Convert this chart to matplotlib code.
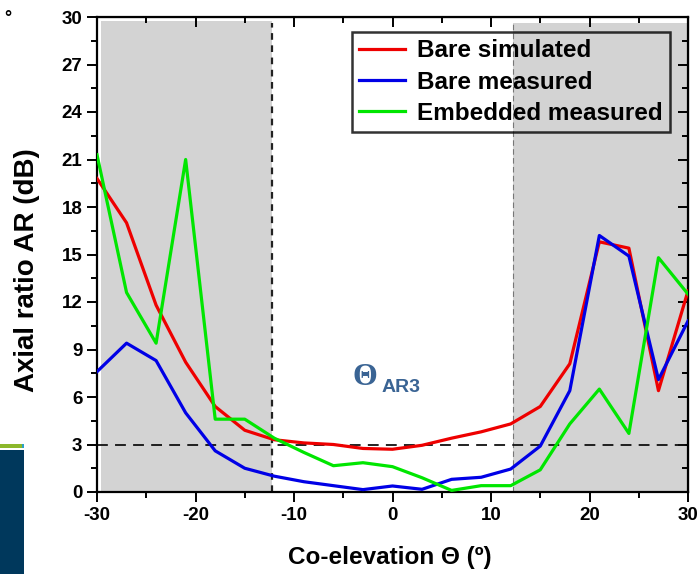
"""Axial ratio vs co-elevation."""

import matplotlib.pyplot as plt
from matplotlib.patches import Rectangle
from matplotlib.ticker import MultipleLocator

plt.rcParams["font.family"] = ["Liberation Sans", "DejaVu Sans"]
plt.rcParams["font.weight"] = "bold"
plt.rcParams["axes.unicode_minus"] = False

theta = [-30, -27, -24, -21, -18, -15, -12, -9, -6, -3, 0,
         3, 6, 9, 12, 15, 18, 21, 24, 27, 30]
bare_sim = [19.8, 17.0, 11.8, 8.2, 5.4, 3.9, 3.3, 3.1, 3.0, 2.75, 2.7,
            2.95, 3.4, 3.8, 4.3, 5.4, 8.1, 15.8, 15.4, 6.4, 12.7]
bare_meas = [7.6, 9.4, 8.3, 5.0, 2.6, 1.5, 1.0, 0.65, 0.4, 0.15, 0.38,
             0.17, 0.8, 0.93, 1.45, 2.9, 6.4, 16.2, 14.9, 7.1, 10.8]
emb_meas = [21.3, 12.6, 9.4, 21.0, 4.6, 4.6, 3.4, 2.5, 1.66, 1.85, 1.6,
            0.9, 0.1, 0.4, 0.4, 1.4, 4.3, 6.5, 3.7, 14.8, 12.5]

fig = plt.figure(figsize=(6.98, 5.74), dpi=100)
ax = fig.add_axes([97 / 698, 82 / 574, 591 / 698, 475 / 574])

# shaded regions outside the 3 dB beamwidth
ax.add_patch(Rectangle((-29.6, 0.05), 17.4, 29.7, facecolor="#d3d3d3",
                       edgecolor="none", zorder=0))
ax.add_patch(Rectangle((12.2, 0.05), 17.8, 29.6, facecolor="#d3d3d3",
                       edgecolor="none", zorder=0))
ax.plot([-12.2, -12.2], [0, 29.6], color="#222222", ls=(0, (3, 2.5)), lw=1.6, zorder=1)
ax.plot([12.2, 12.2], [0, 29.6], color="#777777", ls=(0, (5, 3)), lw=0.8, zorder=1)
ax.axhline(3, color="#111111", ls=(0, (6, 4)), lw=1.3, zorder=1)

ax.plot(theta, bare_sim, color="#ee0000", lw=2.3, label="Bare simulated", zorder=3)
ax.plot(theta, bare_meas, color="#0000e6", lw=2.3, label="Bare measured", zorder=3)
ax.plot(theta, emb_meas, color="#00e600", lw=2.3, label="Embedded measured", zorder=3)

ax.text(-4.1, 7.25, "\u0398", color="#3a6494", fontsize=23, fontweight="bold",
        family="Liberation Serif", ha="left", va="center")
ax.text(-1.1, 6.62, "AR3", color="#3a6494", fontsize=14, fontweight="bold",
        ha="left", va="center")

ax.set_xlim(-30, 30)
ax.set_ylim(0, 30)
ax.xaxis.set_major_locator(MultipleLocator(10))
ax.xaxis.set_minor_locator(MultipleLocator(5))
ax.yaxis.set_major_locator(MultipleLocator(3))
ax.yaxis.set_minor_locator(MultipleLocator(1.5))
ax.tick_params(which="both", labelsize=13.5, width=1.4)
ax.tick_params(which="major", length=7)
ax.tick_params(which="minor", length=4)
for spine in ax.spines.values():
    spine.set_linewidth(1.6)

# inward ticks on top and right, outward on bottom and left
ax2 = ax.secondary_xaxis("top")
ax2.tick_params(which="both", direction="in", labeltop=False, width=1.4)
ax2.tick_params(which="major", length=7)
ax2.tick_params(which="minor", length=4)
ax2.xaxis.set_minor_locator(MultipleLocator(5))
ax2.xaxis.set_major_locator(MultipleLocator(10))
ax3 = ax.secondary_yaxis("right")
ax3.tick_params(which="both", direction="in", labelright=False, width=1.4)
ax3.tick_params(which="major", length=7)
ax3.tick_params(which="minor", length=4)
ax3.yaxis.set_major_locator(MultipleLocator(3))
ax3.yaxis.set_minor_locator(MultipleLocator(1.5))

ax.set_xlabel("Co-elevation \u0398 (\u00ba)", fontsize=17.5, fontweight="bold")
ax.set_ylabel("Axial ratio AR (dB)", fontsize=20, fontweight="bold")
ax.xaxis.set_label_coords(0.496, -0.114)
ax.yaxis.set_label_coords(-0.097, 0.467)

leg = ax.legend(loc="upper left", bbox_to_anchor=(0.431, 0.968),
                frameon=True, fancybox=False, facecolor="none", edgecolor="black",
                handlelength=1.9, handletextpad=0.5, borderpad=0.3,
                labelspacing=0.33, borderaxespad=0,
                prop={"weight": "bold", "size": 17.5})
leg.get_frame().set_linewidth(1.8)

# slide fragments visible at the left border of the picture
fig.text(8 / 698, 1 - 18 / 574, "\u00b0", fontsize=13, fontweight="bold",
         ha="center", va="center")
fig.add_artist(Rectangle((0, 0), 24 / 698, 124 / 574, transform=fig.transFigure,
                         facecolor="#00385c", edgecolor="none"))
fig.add_artist(Rectangle((0, 126 / 574), 22 / 698, 4 / 574, transform=fig.transFigure,
                         facecolor="#8cb82b", edgecolor="none"))
fig.add_artist(Rectangle((22 / 698, 126 / 574), 2 / 698, 4 / 574, transform=fig.transFigure,
                         facecolor="#2aa0c8", edgecolor="none"))

fig.savefig("out.png", dpi=100)
